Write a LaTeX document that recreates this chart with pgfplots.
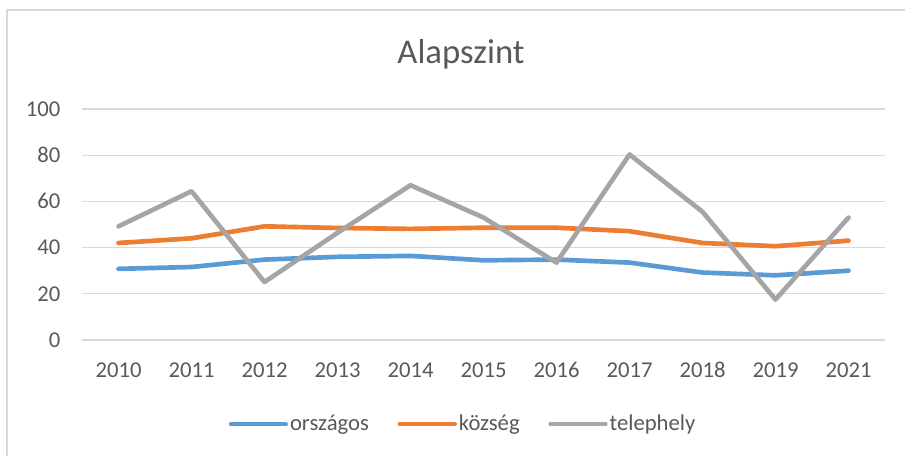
\documentclass[border=0pt]{standalone}
\usepackage{pgfplots}
\pgfplotsset{compat=1.18}
\usepackage{fontspec}
\setmainfont{Carlito}
\definecolor{cblue}{HTML}{5B9BD5}
\definecolor{corange}{HTML}{ED7D31}
\definecolor{cgray}{HTML}{A5A5A5}
\definecolor{ctext}{HTML}{595959}
\definecolor{cgrid}{HTML}{D9D9D9}
\begin{document}
\begin{tikzpicture}[x=0.75pt,y=0.75pt]
\useasboundingbox (0,0) rectangle (905,456);
\draw[cgrid, line width=1.5pt] (7,0) -- (7,446) -- (905,446);
\node[anchor=base, text=ctext, font=\fontsize{26}{30}\selectfont] at (461,{456-63.3}) {Alapszint};
\begin{axis}[
  at={(61.5pt,87pt)}, anchor=south west,
  width=602.25pt, height=173.25pt, scale only axis,
  xmin=-0.5, xmax=10.5, ymin=0, ymax=100,
  xtick={0,...,10},
  xticklabels={2010,2011,2012,2013,2014,2015,2016,2017,2018,2019,2021},
  ytick={0,20,...,100},
  /pgf/number format/assume math mode=true,
  major tick length=0pt,
  axis line style={draw=none},
  ymajorgrids, grid style={cgrid, line width=1pt},
  tick label style={text=ctext, font=\fontsize{17}{20}\selectfont},
  yticklabel style={anchor=east, inner sep=0pt, xshift=-16pt},
  xticklabel style={anchor=base, inner sep=0pt, yshift=-28.5pt},
  legend columns=3,
  legend style={draw=none, fill=none, at={(0.4745,-0.364)}, anchor=center,
    font=\fontsize{17}{20}\selectfont, text=ctext,
    /tikz/every even column/.append style={column sep=20pt},
    nodes={inner sep=1.5pt}},
  legend image code/.code={\draw[#1, line width=3.5pt, line cap=round] (0pt,0pt) -- (41pt,0pt);},
  every axis plot/.append style={line width=3.5pt, line join=round, line cap=round, mark=none},
]
\addplot[cblue] coordinates {(0,30.8) (1,31.6) (2,34.8) (3,36.0) (4,36.4) (5,34.5) (6,34.8) (7,33.5) (8,29.2) (9,28.0) (10,30.0)};
\addplot[corange] coordinates {(0,42.0) (1,44.0) (2,49.2) (3,48.5) (4,48.1) (5,48.6) (6,48.6) (7,47.1) (8,42.0) (9,40.6) (10,43.0)};
\addplot[cgray] coordinates {(0,49.2) (1,64.4) (2,25.1) (3,46.4) (4,67.0) (5,53.0) (6,33.5) (7,80.3) (8,55.5) (9,17.5) (10,53.0)};
\legend{országos, község, telephely}
\end{axis}
\end{tikzpicture}
\end{document}
